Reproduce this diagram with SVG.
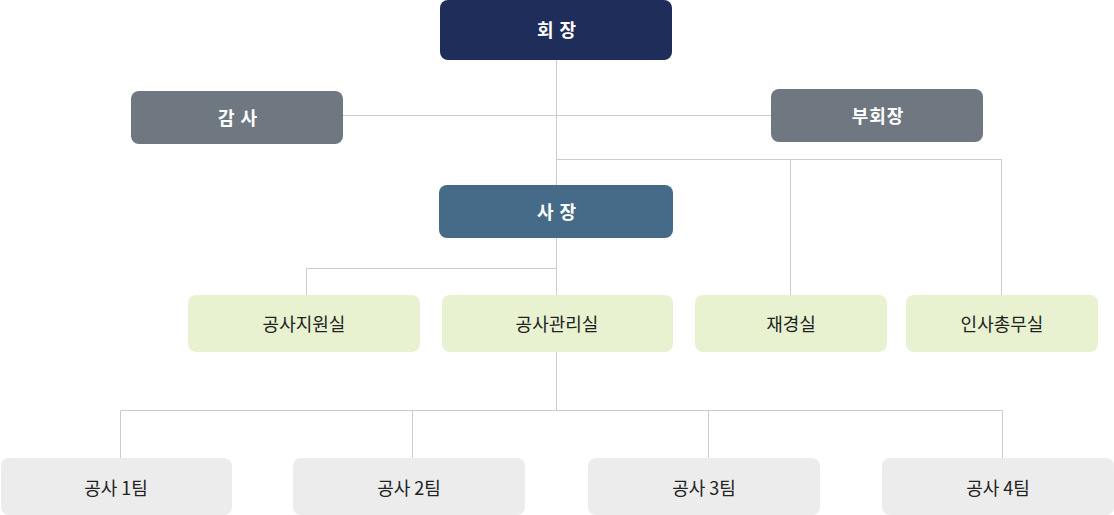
<svg xmlns="http://www.w3.org/2000/svg" width="1114" height="515" viewBox="0 0 1114 515">
<style>
.t{font-family:"Noto Sans CJK KR","Noto Sans",sans-serif;font-size:18px;text-anchor:middle;dominant-baseline:central}
.w{fill:#ffffff;font-weight:700;letter-spacing:1px}
.d{fill:#222222;font-weight:400}
.ln{stroke:#cccccc;stroke-width:1;fill:none}
</style>
<rect width="1114" height="515" fill="#ffffff"/>
<g id="connectors" class="ln">
<path d="M556.5 60V295"/>
<path d="M343 115.5H771"/>
<path d="M556.5 159.5H1001.5V295"/>
<path d="M790.5 159.5V295"/>
<path d="M306.5 295V268.5H556.5"/>
<path d="M556.5 352V410.5"/>
<path d="M120.5 458V410.5H1002.5V458"/>
<path d="M412.5 410.5V458"/>
<path d="M708.5 410.5V458"/>
</g>
<g id="n-chairman"><rect x="440" y="0" width="232" height="60" rx="8" fill="#1e2d5a"/><text class="t w" x="557" y="29">회 장</text></g>
<g id="n-audit"><rect x="131" y="91" width="212" height="53" rx="8" fill="#6f7880"/><text class="t w" x="238" y="117">감 사</text></g>
<g id="n-vice"><rect x="771" y="89" width="212" height="53" rx="8" fill="#6f7880"/><text class="t w" x="878" y="115">부회장</text></g>
<g id="n-president"><rect x="439" y="185" width="234" height="53" rx="8" fill="#466b88"/><text class="t w" x="557" y="211">사 장</text></g>
<g id="n-support"><rect x="188" y="295" width="232" height="57" rx="8" fill="#e8f2d0"/><text class="t d" x="304" y="323">공사지원실</text></g>
<g id="n-manage"><rect x="442" y="295" width="231" height="57" rx="8" fill="#e8f2d0"/><text class="t d" x="557" y="323">공사관리실</text></g>
<g id="n-finance"><rect x="695" y="295" width="192" height="57" rx="8" fill="#e8f2d0"/><text class="t d" x="791" y="323">재경실</text></g>
<g id="n-hr"><rect x="906" y="295" width="192" height="57" rx="8" fill="#e8f2d0"/><text class="t d" x="1002" y="323">인사총무실</text></g>
<g id="n-team1"><rect x="1" y="458" width="231" height="57" rx="8" fill="#ececec"/><text class="t d" x="116" y="487">공사 1팀</text></g>
<g id="n-team2"><rect x="293" y="458" width="232" height="57" rx="8" fill="#ececec"/><text class="t d" x="409" y="487">공사 2팀</text></g>
<g id="n-team3"><rect x="588" y="458" width="232" height="57" rx="8" fill="#ececec"/><text class="t d" x="704" y="487">공사 3팀</text></g>
<g id="n-team4"><rect x="882" y="458" width="232" height="57" rx="8" fill="#ececec"/><text class="t d" x="998" y="487">공사 4팀</text></g>
</svg>
